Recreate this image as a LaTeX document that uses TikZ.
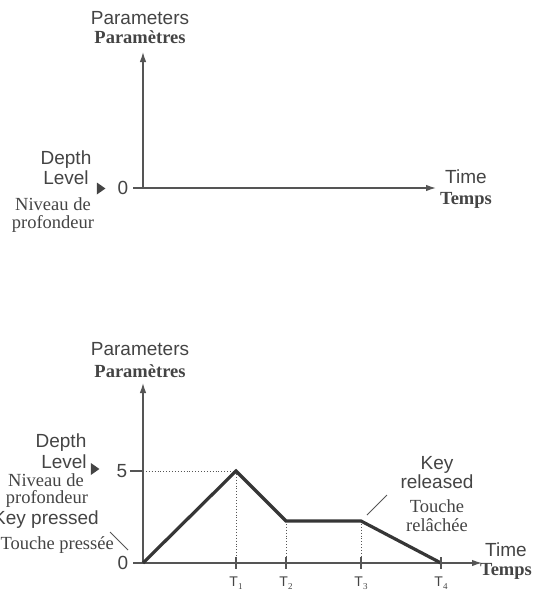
\documentclass[tikz,border=0pt]{standalone}
\usepackage{fontspec}
\setmainfont{Liberation Serif}
\setsansfont{Liberation Sans}
\usetikzlibrary{arrows.meta,shapes.geometric}
\definecolor{txt}{HTML}{444444}
\definecolor{axc}{HTML}{555555}
\definecolor{env}{HTML}{363636}
\tikzset{
  en/.style={font=\sffamily\fontsize{19}{19}\selectfont, text=txt, inner sep=0pt},
  fr/.style={font=\rmfamily\fontsize{18.5}{18.5}\selectfont, text=txt, inner sep=0pt},
  frb/.style={font=\rmfamily\bfseries\fontsize{18.5}{18.5}\selectfont, text=txt, inner sep=0pt},
  tl/.style={font=\sffamily\fontsize{14}{14}\selectfont, text=txt, inner sep=0pt},
  axis/.style={draw=axc, line width=1.3pt, -{Latex[length=10pt,width=6.5pt]}},
  tick/.style={draw=axc, line width=1.3pt},
  envl/.style={draw=env, line width=3.2pt, line join=miter},
  dots/.style={draw=axc, line width=0.9pt, dotted},
  marker/.style={isosceles triangle, isosceles triangle apex angle=70, fill=txt, inner sep=0pt, minimum height=8pt, minimum width=12pt},
  ptr/.style={draw=axc, line width=1pt}
}
\newcommand{\Tlab}[1]{T\raisebox{-3pt}{\rmfamily\fontsize{9}{9}\selectfont #1}}
\begin{document}
\begin{tikzpicture}[x=1pt,y=-1pt]
\useasboundingbox (0,0) rectangle (540,595);
% ---------- top diagram ----------
\coordinate (o1) at (143,188);
\coordinate (yt1) at (143,52);
\coordinate (xt1) at (436,188);
\draw[axis] (o1) -- (yt1);
\draw[axis] (o1) -- (xt1);
\node[en] (par1) at (140,18) {Parameters};
\node[frb] (parf1) at (140,37) {Paramètres};
\node[en] (z1) at (123,188) {0};
\coordinate (tk1) at (133,188);
\draw[tick] (tk1) -- (o1);
\node[marker] (m1) at (100,188.5) {};
\node[en] (dep1) at (66,160) {Depth};
\node[en] (lev1) at (66,178) {Level};
\node[fr] (niv1) at (53,204) {Niveau de};
\node[fr] (pro1) at (53,224) {profondeur};
\node[en] (time1) at (466,177) {Time};
\node[frb] (temps1) at (466,200) {Temps};
% ---------- bottom diagram ----------
\coordinate (o2) at (143,563);
\coordinate (yt2) at (143,383);
\coordinate (xt2) at (482,563);
\draw[axis] (o2) -- (yt2);
\draw[axis] (o2) -- (xt2);
\node[en] (par2) at (140,349) {Parameters};
\node[frb] (parf2) at (140,371) {Paramètres};
\node[en] (z2) at (123,563) {0};
\node[en] (f2) at (122,471) {5};
\coordinate (tk0) at (133,563);
\coordinate (y5) at (143,471);
\coordinate (tk5) at (130,471);
\draw[tick] (tk0) -- (o2);
\draw[tick] (tk5) -- (y5);
\node[marker] (m2) at (94,469) {};
\node[en] (dep2) at (61,443) {Depth};
\node[en] (lev2) at (64,462) {Level};
\node[fr] (niv2) at (46,480) {Niveau de};
\node[fr] (pro2) at (47,499) {profondeur};
\node[en, anchor=east] (kp) at (99,520) {Key pressed};
\node[fr, anchor=east] (tp) at (114,545) {Touche pressée};
\coordinate (kpa) at (110,532);
\coordinate (kpb) at (128,550);
\draw[ptr] (kpa) -- (kpb);
% envelope
\coordinate (p1) at (236,471);
\coordinate (p2) at (286,521);
\coordinate (p3) at (361,521);
\coordinate (p4) at (441,563);
\coordinate (b1) at (236,563);
\coordinate (b2) at (286,563);
\coordinate (b3) at (361,563);
\draw[dots] (y5) -- (p1);
\draw[dots] (p1) -- (b1);
\draw[dots] (p2) -- (b2);
\draw[dots] (p3) -- (b3);
\draw[envl] (o2) -- (p1) -- (p2) -- (p3) -- (p4);
% ticks
\foreach \x/\n in {236/1,286/2,361/3,441/4}{
  \coordinate (ta\n) at (\x,557);
  \coordinate (tb\n) at (\x,569);
  \draw[tick] (ta\n) -- (tb\n);
  \node[tl] (T\n) at (\x,583) {\Tlab{\n}};
}
\node[en] (time2) at (506,550) {Time};
\node[frb] (temps2) at (506,571) {Temps};
\node[en] (key) at (437,465) {Key};
\node[en] (rel) at (437,482) {released};
\node[fr] (tou) at (437,506) {Touche};
\node[fr] (rela) at (437,525) {relâchée};
\coordinate (kra) at (367,515);
\coordinate (krb) at (387,495);
\draw[ptr] (kra) -- (krb);
\end{tikzpicture}
\end{document}
